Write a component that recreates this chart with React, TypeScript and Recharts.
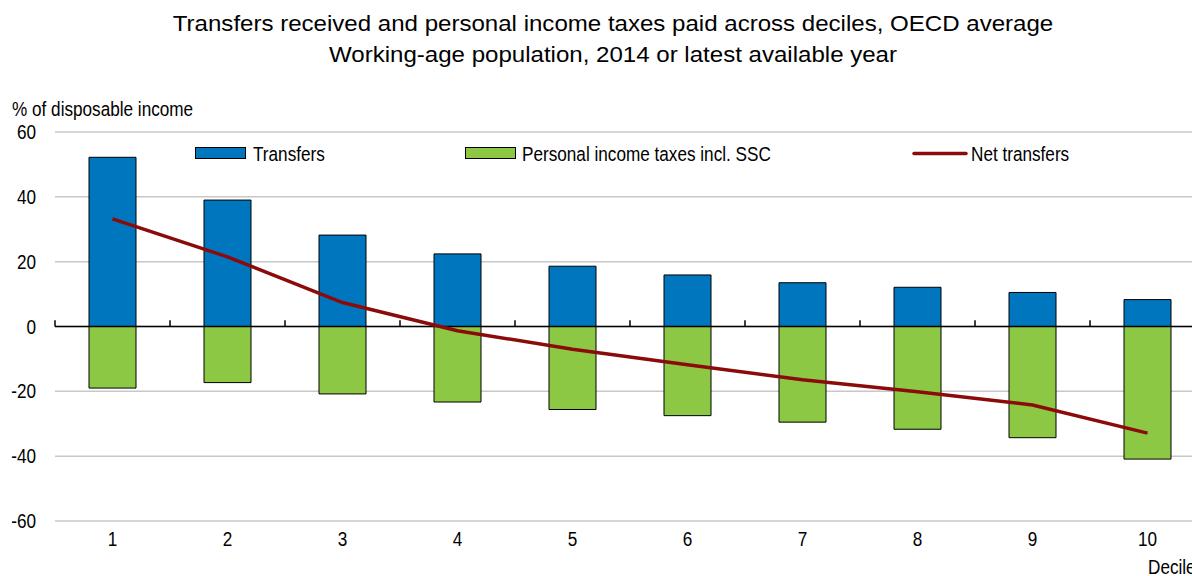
import React from 'react';
import { ComposedChart, Bar, Line, XAxis, YAxis, CartesianGrid, ReferenceLine } from 'recharts';

const deciles = [1, 2, 3, 4, 5, 6, 7, 8, 9, 10];
const transfers = [52.2, 39.0, 28.2, 22.4, 18.6, 15.9, 13.5, 12.1, 10.5, 8.3];
const taxes = [-19.0, -17.3, -20.8, -23.3, -25.6, -27.5, -29.5, -31.7, -34.3, -40.9];
const netTransfers = [33.2, 21.5, 7.4, -1.3, -7.0, -11.8, -16.4, -20.1, -24.2, -32.9];
const yTicks = [-60, -40, -20, 0, 20, 40, 60];

const titleLines = [
  'Transfers received and personal income taxes paid across deciles, OECD average',
  'Working-age population, 2014 or latest available year',
];
const yAxisTitle = '% of disposable income';
const xAxisTitle = 'Decile';
const seriesNames = ['Transfers', 'Personal income taxes incl. SSC', 'Net transfers'];

const data = deciles.map((d, i) => ({
  decile: d,
  transfers: transfers[i],
  taxes: taxes[i],
  net: netTransfers[i],
}));

const boundaries = [...deciles.map((d) => d - 0.5), deciles[deciles.length - 1] + 0.5];

const FONT = '"Liberation Sans", Arial, sans-serif';
const BLUE = '#0076BE';
const GREEN = '#8CC844';
const RED = '#8B0B0B';
const LFS = 19.5; // label font size
const SX = 0.88; // horizontal squeeze of labels

function Label({ x, y, text, anchor = 'start', size = LFS, sx = SX }: any) {
  return (
    <g transform={`translate(${x},${y}) scale(${sx},1)`}>
      <text x={0} y={0} textAnchor={anchor} fontSize={size} fontFamily={FONT} fill="#000">
        {text}
      </text>
    </g>
  );
}

const XTick = (props: any) => {
  const { x, y, payload } = props;
  return <Label x={x} y={y + 25} text={String(payload.value)} anchor="middle" />;
};

const YTick = (props: any) => {
  const { x, y, payload } = props;
  return <Label x={x - 19} y={y + 7} text={String(payload.value)} anchor="end" />;
};

export default function App() {
  return (
    <div style={{ position: 'absolute', left: 0, top: 0, width: 1192, height: 576, overflow: 'hidden', background: '#fff' }}>
      <div style={{ position: 'absolute', left: 0, top: 0 }}>
        <ComposedChart
          width={1250}
          height={576}
          data={data}
          stackOffset="sign"
          margin={{ top: 132, right: 45, bottom: 25, left: 0 }}
        >
          <CartesianGrid vertical={false} stroke="#C8C8C8" strokeWidth={1.5} />
          <XAxis
            dataKey="decile"
            type="number"
            domain={[0.5, 10.5]}
            ticks={deciles}
            axisLine={false}
            tickLine={false}
            tickSize={0}
            tickMargin={0}
            height={30}
            tick={<XTick />}
            interval={0}
            allowDataOverflow
          />
          <YAxis
            domain={[-60, 60]}
            ticks={yTicks}
            axisLine={false}
            tickLine={false}
            tickSize={0}
            tickMargin={0}
            width={55}
            tick={<YTick />}
            interval={0}
          />
          <Bar dataKey="transfers" stackId="a" fill={BLUE} stroke="#000" strokeWidth={1} barSize={47} isAnimationActive={false} />
          <Bar dataKey="taxes" stackId="a" fill={GREEN} stroke="#000" strokeWidth={1} barSize={47} isAnimationActive={false} />
          <ReferenceLine y={0} stroke="#000" strokeWidth={1.5} />
          {boundaries.map((b) => (
            <ReferenceLine key={b} segment={[{ x: b, y: 0 }, { x: b, y: 1.9 }]} stroke="#000" strokeWidth={1.5} />
          ))}
          <Line dataKey="net" type="linear" stroke={RED} strokeWidth={3.5} dot={false} isAnimationActive={false} />
        </ComposedChart>
      </div>
      <svg width={1192} height={576} style={{ position: 'absolute', left: 0, top: 0, pointerEvents: 'none' }}>
        <Label x={613} y={31} text={titleLines[0]} anchor="middle" size={22.3} sx={1.08} />
        <Label x={613} y={62} text={titleLines[1]} anchor="middle" size={22.3} sx={1.08} />
        <Label x={12} y={116} text={yAxisTitle} />
        <Label x={1148} y={574} text={xAxisTitle} />
        {/* legend */}
        <rect x={195.5} y={147.5} width={50} height={11} fill={BLUE} stroke="#000" strokeWidth={1} />
        <Label x={253} y={161} text={seriesNames[0]} />
        <rect x={465.5} y={147.5} width={50} height={11} fill={GREEN} stroke="#000" strokeWidth={1} />
        <Label x={522} y={161} text={seriesNames[1]} />
        <line x1={914} y1={153.5} x2={966} y2={153.5} stroke={RED} strokeWidth={3.5} strokeLinecap="round" />
        <Label x={971} y={161} text={seriesNames[2]} />
      </svg>
    </div>
  );
}
